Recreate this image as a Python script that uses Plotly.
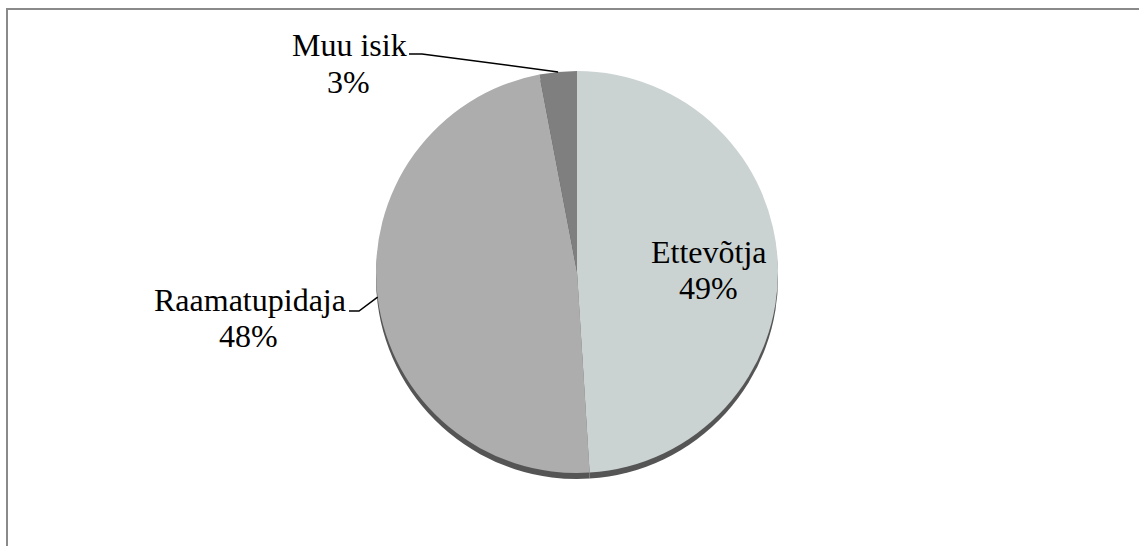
import math
import plotly.graph_objects as go

# Survey answers: who does the bookkeeping
categories = ["Ettevõtja", "Raamatupidaja", "Muu isik"]
shares = [49, 48, 3]
slice_colors = ["#cad3d2", "#adadad", "#7f7f7f"]
rim_color = "#555555"

W, H = 1139, 546
CX, CY, R = 577, 272, 201     # pie centre and radius in pixels
DEPTH = 6                     # thickness of the dark rim under the pie
FONT = dict(family="Liberation Serif", size=32, color="black")


def px(x):
    return x / W


def py(y):
    return 1 - y / H


def dom(cy):
    return dict(x=[px(CX - R), px(CX + R)], y=[py(cy + R), py(cy - R)])


fig = go.Figure()

# dark copy slightly lower gives the pie its edge
fig.add_trace(go.Pie(
    labels=categories, values=shares, sort=False, direction="clockwise",
    marker=dict(colors=[rim_color] * len(shares), line=dict(width=0)),
    textinfo="none", hoverinfo="skip", showlegend=False, domain=dom(CY + DEPTH),
))
fig.add_trace(go.Pie(
    labels=categories, values=shares, sort=False, direction="clockwise",
    marker=dict(colors=slice_colors, line=dict(width=0)),
    textinfo="none", showlegend=False, domain=dom(CY),
))

# mid angle of each slice, measured clockwise from 12 o'clock
total = sum(shares)
mids, acc = [], 0
for v in shares:
    mids.append((acc + v / 2) / total * 360)
    acc += v


def edge_point(angle, frac=1.0):
    a = math.radians(angle)
    return CX + R * frac * math.sin(a), CY - R * frac * math.cos(a)


# label blocks: (name centre, percent centre) in pixels
label_pos = {
    "Ettevõtja": ((709, 252), (708, 288)),
    "Raamatupidaja": ((250, 300), (248, 336)),
    "Muu isik": ((349, 45), (348, 82)),
}
# leader lines: label-side start and end of the short horizontal tick
leader = {
    "Raamatupidaja": ((349, 311), (359, 311)),
    "Muu isik": ((409, 54), (422, 54)),
}

annotations, shapes = [], []
for name, v, mid in zip(categories, shares, mids):
    (nx, ny), (vx, vy) = label_pos[name]
    annotations.append(dict(x=px(nx), y=py(ny), xref="paper", yref="paper",
                            text=name, showarrow=False, font=FONT,
                            xanchor="center", yanchor="middle"))
    annotations.append(dict(x=px(vx), y=py(vy), xref="paper", yref="paper",
                            text=f"{v}%", showarrow=False, font=FONT,
                            xanchor="center", yanchor="middle"))
    if name in leader:
        (x0, y0), (x1, y1) = leader[name]
        ex, ey = edge_point(mid)
        path = f"M {px(x0)} {py(y0)} L {px(x1)} {py(y1)} L {px(ex)} {py(ey)}"
        shapes.append(dict(type="path", xref="paper", yref="paper", path=path,
                           line=dict(color="black", width=1.5)))

# chart frame
shapes.append(dict(type="rect", xref="paper", yref="paper",
                   x0=px(7), x1=px(W + 20), y0=py(H + 20), y1=py(9),
                   line=dict(color="#8a8a8a", width=2), layer="below"))

fig.update_layout(
    width=W, height=H, margin=dict(l=0, r=0, t=0, b=0),
    paper_bgcolor="white", plot_bgcolor="white",
    annotations=annotations, shapes=shapes,
)

fig.write_html("out.html")
